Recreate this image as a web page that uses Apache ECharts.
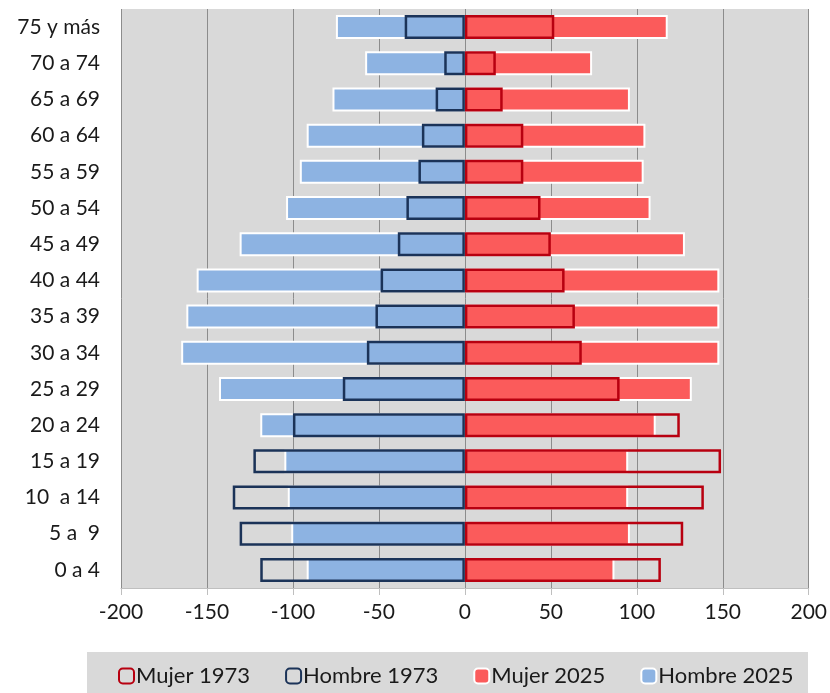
<!DOCTYPE html>
<html>
<head>
<meta charset="utf-8">
<script src="https://cdn.jsdelivr.net/npm/echarts@6/dist/echarts.min.js"></script>
<style>
html,body{margin:0;padding:0;background:#fff;}
#chart{width:830px;height:693px;}
</style>
</head>
<body>
<div id="chart"></div>
<script>
// Categories listed bottom to top
const categories = ["0 a 4","5 a  9","10  a 14","15 a 19","20 a 24","25 a 29","30 a 34","35 a 39","40 a 44","45 a 49","50 a 54","55 a 59","60 a 64","65 a 69","70 a 74","75 y más"];
const hombre2025 = [-92,-101,-103,-105,-119,-143,-165,-162,-156,-131,-104,-96,-92,-77,-58,-75];
const mujer2025  = [87,96,95,95,111,132,148,148,148,128,108,104,105,96,74,118];
const hombre1973 = [-119,-131,-135,-123,-100,-71,-57,-52,-49,-39,-34,-27,-25,-17,-12,-35];
const mujer1973  = [114,127,139,149,125,90,68,64,58,50,44,34,34,22,18,52];
const xTicks = {min:-200, max:200, interval:50};

const font = 'Lato, "Open Sans", sans-serif';
const chart = echarts.init(document.getElementById('chart'));
const barW = 24;
chart.setOption({
  animation:false,
  backgroundColor:'#ffffff',
  graphic:[{type:'rect', z:-1, shape:{x:87,y:652,width:721,height:41}, style:{fill:'#d9d9d9'}}],
  grid:{left:121, right:20, top:9, bottom:105, show:true, backgroundColor:'#d9d9d9', borderWidth:0},
  legend:{
    data:['Mujer 1973','Hombre 1973','Mujer 2025','Hombre 2025'],
    left:113, top:660, itemWidth:15, itemHeight:15, itemGap:35,
    textStyle:{fontFamily:font, fontSize:22, color:'#1a1a1a', padding:[0,0,0,-3]}
  },
  xAxis:{
    type:'value', min:xTicks.min, max:xTicks.max, interval:xTicks.interval,
    axisLine:{show:true, onZero:false, lineStyle:{color:'#bfbfbf', width:1}},
    axisTick:{show:true, length:7, lineStyle:{color:'#bfbfbf'}},
    splitLine:{show:true, lineStyle:{color:'#8c8c8c', width:1}},
    axisLabel:{fontFamily:font, fontSize:21, color:'#1a1a1a', margin:14}
  },
  yAxis:{
    type:'category', data:categories,
    axisLine:{show:false, onZero:false},
    axisTick:{show:false},
    axisLabel:{fontFamily:font, fontSize:21, color:'#1a1a1a', margin:21}
  },
  series:[
    {name:'Hombre 2025', type:'bar', data:hombre2025, barWidth:barW, barGap:'-100%',
     itemStyle:{color:'#8db3e2', borderColor:'#ffffff', borderWidth:2}},
    {name:'Mujer 2025', type:'bar', data:mujer2025, barWidth:barW, barGap:'-100%',
     itemStyle:{color:'#fb5b5b', borderColor:'#ffffff', borderWidth:2}},
    {name:'Mujer 1973', type:'bar', data:mujer1973, barWidth:barW, barGap:'-100%',
     itemStyle:{color:'rgba(0,0,0,0)', borderColor:'#b80010', borderWidth:2.5}},
    {name:'Hombre 1973', type:'bar', data:hombre1973, barWidth:barW, barGap:'-100%',
     itemStyle:{color:'rgba(0,0,0,0)', borderColor:'#1b3358', borderWidth:2.5}}
  ]
});
</script>
</body>
</html>
